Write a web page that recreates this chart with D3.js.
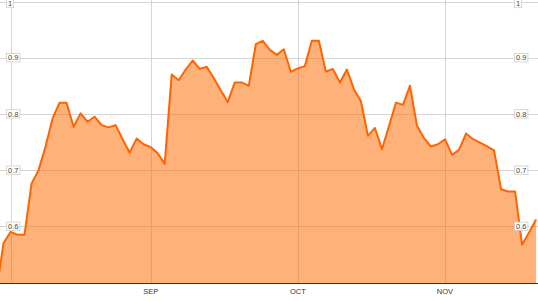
<!DOCTYPE html>
<html>
<head>
<meta charset="utf-8">
<script src="https://cdn.jsdelivr.net/npm/d3@7"></script>
<style>
  body { margin: 0; background: #fff; }
  svg { display: block; font-family: "Liberation Sans", Arial, sans-serif; }
</style>
</head>
<body>
<div id="chart"></div>
<script>
// chart size
var width = 538, height = 301;

// daily values, one per trading day (first point sits just left of the frame)
var values = [0.485, 0.570, 0.590, 0.585, 0.585, 0.676, 0.700, 0.742, 0.792, 0.820,
  0.820, 0.777, 0.801, 0.786, 0.795, 0.780, 0.776, 0.780, 0.755, 0.731,
  0.756, 0.746, 0.741, 0.730, 0.711, 0.870, 0.860, 0.879, 0.895, 0.880,
  0.884, 0.864, 0.842, 0.821, 0.856, 0.856, 0.850, 0.924, 0.930, 0.914,
  0.905, 0.915, 0.875, 0.881, 0.885, 0.930, 0.930, 0.875, 0.880, 0.856,
  0.879, 0.844, 0.823, 0.761, 0.775, 0.737, 0.778, 0.820, 0.816, 0.850,
  0.779, 0.757, 0.742, 0.746, 0.755, 0.727, 0.736, 0.765, 0.755, 0.749,
  0.742, 0.735, 0.666, 0.662, 0.662, 0.567, 0.589, 0.612];

var yTicks = [0.6, 0.7, 0.8, 0.9, 1];
var monthIdx = [22, 43, 64];
var monthLabels = ["SEP", "OCT", "NOV"];

var svg = d3.select("#chart").append("svg")
  .attr("width", width)
  .attr("height", height);

var x = d3.scaleLinear().domain([0, values.length - 1]).range([-3.5, 536.1]);
var y = d3.scaleLinear().domain([0.5, 1]).range([282.5, 1.5]);

svg.append("defs").append("clipPath").attr("id", "plot")
  .append("rect").attr("x", 0).attr("y", 0).attr("width", 537).attr("height", 283);

// grid
var grid = svg.append("g").attr("stroke", "#d6d6d6").attr("shape-rendering", "crispEdges");
grid.selectAll(".hg").data(yTicks).enter().append("line")
  .attr("x1", 0).attr("x2", width)
  .attr("y1", function (d) { return Math.round(y(d)) + 0.5; })
  .attr("y2", function (d) { return Math.round(y(d)) + 0.5; });
grid.selectAll(".vg").data([10.7].concat(monthIdx.map(function (d) { return x(d); }))).enter().append("line")
  .attr("y1", 0).attr("y2", 283)
  .attr("x1", function (d) { return Math.round(d) + 0.5; })
  .attr("x2", function (d) { return Math.round(d) + 0.5; });

// area + line
var g = svg.append("g").attr("clip-path", "url(#plot)");
g.append("path").datum(values)
  .attr("fill", "#ff6a00")
  .attr("fill-opacity", 0.52)
  .attr("d", d3.area()
    .x(function (d, i) { return x(i); })
    .y0(y(0.5) + 1)
    .y1(function (d) { return y(d); }));
g.append("path").datum(values)
  .attr("fill", "none")
  .attr("stroke", "#ff6400")
  .attr("stroke-width", 2)
  .attr("stroke-linejoin", "round")
  .attr("d", d3.line()
    .x(function (d, i) { return x(i); })
    .y(function (d) { return y(d); }));

// baseline
svg.append("line")
  .attr("x1", 0).attr("x2", width)
  .attr("y1", 283.5).attr("y2", 283.5)
  .attr("stroke", "#333").attr("stroke-width", 1.2);

// month labels
svg.selectAll(".month").data(monthIdx).enter().append("text")
  .attr("x", function (d) { return x(d); })
  .attr("y", 294)
  .attr("text-anchor", "middle")
  .attr("font-size", "7.5px")
  .attr("fill", "#333")
  .text(function (d, i) { return monthLabels[i]; });

// boxed y labels on both sides (top one nudged down so it stays inside)
[8, 516].forEach(function (lx) {
  var lab = svg.append("g").selectAll("g").data(yTicks).enter().append("g")
    .attr("transform", function (d) { return "translate(" + lx + "," + Math.max(y(d), 3.5) + ")"; });
  lab.append("text")
    .attr("dy", "0.35em")
    .attr("font-size", "7.5px")
    .attr("fill", "#444")
    .text(function (d) { return d; });
  lab.each(function () {
    var t = d3.select(this).select("text").node().getBBox();
    d3.select(this).insert("rect", "text")
      .attr("x", t.x - 1.5).attr("y", -4.2)
      .attr("width", t.width + 3).attr("height", 8.4)
      .attr("fill", "#fff").attr("stroke", "#ccc").attr("stroke-width", 0.8);
  });
});
</script>
</body>
</html>
